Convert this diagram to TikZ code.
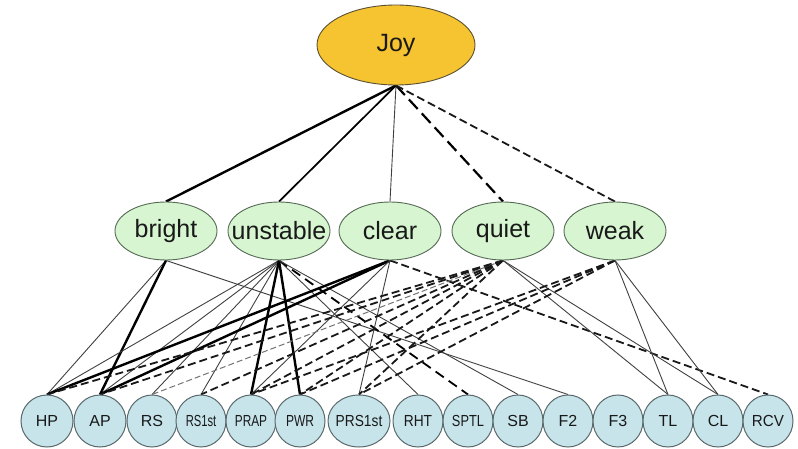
\documentclass[tikz,border=0pt]{standalone}
\usepackage{fontspec}
\setmainfont{Liberation Sans}
\usetikzlibrary{shapes.geometric,backgrounds}

\definecolor{joyfill}{RGB}{245,196,48}
\definecolor{joyline}{RGB}{90,80,50}
\definecolor{moodfill}{RGB}{214,245,208}
\definecolor{moodline}{RGB}{85,105,85}
\definecolor{featfill}{RGB}{198,228,234}
\definecolor{featline}{RGB}{90,105,108}
\definecolor{ink}{RGB}{25,25,25}

% horizontally squeezed label for the feature circles
\newcommand{\sqz}[2]{\scalebox{#1}[1]{#2}}

\begin{document}
\begin{tikzpicture}[x=1pt,y=-1pt,
  joynode/.style={ellipse, draw=joyline, line width=0.9pt, fill=joyfill,
    minimum width=158pt, minimum height=80pt, inner sep=0pt, text=ink,
    font=\fontsize{25}{28}\selectfont},
  mood/.style={ellipse, draw=moodline, line width=0.9pt, fill=moodfill,
    minimum width=102pt, minimum height=58pt, inner sep=0pt, text=ink,
    font=\fontsize{25}{28}\selectfont},
  feat/.style={ellipse, draw=featline, line width=1pt, fill=featfill,
    minimum width=50pt, minimum height=52pt, inner sep=0pt, text=ink,
    font=\fontsize{16}{18}\selectfont},
  thinlink/.style={line width=0.9pt, draw=black!75},
  heavylink/.style={line width=2.4pt, draw=black},
  midlink/.style={line width=1.7pt, draw=black},
  bigdash/.style={line width=2.2pt, draw=black, dash pattern=on 13pt off 6pt},
  meddash/.style={line width=1.8pt, draw=black!90, dash pattern=on 8pt off 4pt},
  longdash/.style={line width=1.8pt, draw=black, dash pattern=on 10pt off 6pt},
  greydash/.style={line width=1pt, draw=black!55, dash pattern=on 6pt off 3pt}
]
\path[use as bounding box] (0,0) rectangle (798,449);

% top node
\node[joynode] (joy) at (396,45) {Joy};

% middle layer
\node[mood] (bright)   at (166,231) {\makebox[0pt]{bright}};
\node[mood] (unstable) at (279,231) {\makebox[0pt]{unstable}};
\node[mood] (clear)    at (390,231) {\makebox[0pt]{clear}};
\node[mood] (quiet)    at (503,231) {\makebox[0pt]{quiet}};
\node[mood] (weak)     at (615,231) {\makebox[0pt]{weak}};

% feature layer
\node[feat, minimum width=52pt] (HP)   at (47,421)  {HP};
\node[feat, minimum width=52pt] (AP)   at (100,421) {AP};
\node[feat] (RS)     at (152,421) {RS};
\node[feat] (RSfst)  at (201,421) {\makebox[0pt]{\sqz{0.7}{RS1st}}};
\node[feat] (PRAP)   at (251,421) {\makebox[0pt]{\sqz{0.74}{PRAP}}};
\node[feat] (PWR)    at (300,421) {\makebox[0pt]{\sqz{0.75}{PWR}}};
\node[feat, minimum width=62pt] (PRSfst) at (359,421) {\makebox[0pt]{\sqz{0.86}{PRS1st}}};
\node[feat] (RHT)    at (418,421) {\makebox[0pt]{\sqz{0.86}{RHT}}};
\node[feat] (SPTL)   at (468,421) {\makebox[0pt]{\sqz{0.8}{SPTL}}};
\node[feat] (SB)     at (518,421) {SB};
\node[feat] (F2)     at (568,421) {F2};
\node[feat] (F3)     at (618,421) {F3};
\node[feat] (TL)     at (668,421) {TL};
\node[feat] (CL)     at (718,421) {CL};
\node[feat] (RCV)    at (768,421) {\makebox[0pt]{\sqz{0.95}{RCV}}};

\begin{scope}[on background layer]
  % Joy to the five moods
  \draw[heavylink] (joy.south) -- (bright.north);
  \draw[midlink]   (joy.south) -- (unstable.north);
  \draw[thinlink]  (joy.south) -- (clear.north);
  \draw[bigdash]   (joy.south) -- (quiet.north);
  \draw[meddash]   (joy.south) -- (weak.north);

  % bright
  \draw[thinlink]  (bright.south) -- (HP.north);
  \draw[heavylink] (bright.south) -- (AP.north);
  \draw[thinlink]  (bright.south) -- (F2.north);

  % unstable
  \draw[thinlink]  (unstable.south) -- (HP.north);
  \draw[thinlink]  (unstable.south) -- (AP.north);
  \draw[thinlink]  (unstable.south) -- (RS.north);
  \draw[thinlink]  (unstable.south) -- (RSfst.north);
  \draw[heavylink] (unstable.south) -- (PRAP.north);
  \draw[heavylink] (unstable.south) -- (PWR.north);
  \draw[thinlink]  (unstable.south) -- (RHT.north);
  \draw[longdash]  (unstable.south) -- (SPTL.north);
  \draw[thinlink]  (unstable.south) -- (SB.north);

  % clear
  \draw[heavylink] (clear.south) -- (HP.north);
  \draw[heavylink] (clear.south) -- (AP.north);
  \draw[thinlink]  (clear.south) -- (PRAP.north);
  \draw[thinlink]  (clear.south) -- (PRSfst.north);
  \draw[meddash]   (clear.south) -- (RCV.north);

  % quiet
  \draw[meddash]   (quiet.south) -- (HP.north);
  \draw[meddash]   (quiet.south) -- (AP.north);
  \draw[greydash]  (quiet.south) -- (RS.north);
  \draw[meddash]   (quiet.south) -- (RSfst.north);
  \draw[meddash]   (quiet.south) -- (PRAP.north);
  \draw[meddash]   (quiet.south) -- (PWR.north);
  \draw[meddash]   (quiet.south) -- (PRSfst.north);
  \draw[thinlink]  (quiet.south) -- (TL.north);
  \draw[thinlink]  (quiet.south) -- (CL.north);

  % weak
  \draw[meddash]   (weak.south) -- (PRAP.north);
  \draw[meddash]   (weak.south) -- (PWR.north);
  \draw[meddash]   (weak.south) -- (PRSfst.north);
  \draw[thinlink]  (weak.south) -- (TL.north);
  \draw[thinlink]  (weak.south) -- (CL.north);
\end{scope}
\end{tikzpicture}
\end{document}
